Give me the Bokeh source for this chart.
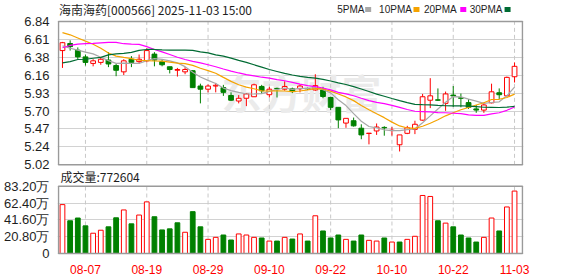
from bokeh.plotting import figure
from bokeh.models import Range1d, FixedTicker, ColumnDataSource
from bokeh.core.properties import value
from bokeh.embed import file_html
from bokeh.resources import INLINE

# ---------------- data ----------------
dates = ["08-04","08-05","08-06","08-07","08-08","08-11","08-12","08-13","08-14","08-15",
         "08-18","08-19","08-20","08-21","08-22","08-25","08-26","08-27","08-28","08-29",
         "09-01","09-02","09-03","09-04","09-05","09-08","09-09","09-10","09-11","09-12",
         "09-15","09-16","09-17","09-18","09-19","09-22","09-23","09-24","09-25","09-26",
         "09-29","09-30","10-09","10-10","10-13","10-14","10-15","10-16","10-17","10-20",
         "10-21","10-22","10-23","10-24","10-27","10-28","10-29","10-30","10-31","11-03"]
tick_dates = ["08-07","08-19","08-29","09-10","09-22","10-10","10-22","11-03"]

opens = [6.47,6.56,6.475,6.39,6.307,6.32,6.35,6.28,6.20,6.36,
         6.33,6.34,6.425,6.33,6.265,6.22,6.20,6.215,6.02,5.98,
         6.02,6.00,5.90,5.83,5.865,5.884,6.015,5.91,5.99,5.98,
         5.985,5.985,5.99,5.97,5.97,5.875,5.75,5.55,5.58,5.485,
         5.418,5.45,5.495,5.455,5.275,5.42,5.47,5.587,5.84,5.845,
         5.80,5.905,5.87,5.81,5.73,5.715,5.807,5.935,5.896,6.138]
highs = [6.58,6.60,6.51,6.42,6.36,6.38,6.45,6.30,6.36,6.40,
         6.42,6.50,6.45,6.35,6.265,6.25,6.26,6.22,6.05,6.04,
         6.06,6.035,5.94,5.905,5.93,6.05,6.035,6.01,6.00,6.08,
         6.00,6.04,6.00,6.17,6.01,5.885,5.75,5.61,5.62,5.535,
         5.425,5.545,5.51,5.50,5.40,5.515,5.58,5.92,6.12,5.99,
         5.95,6.02,5.925,5.855,5.78,5.81,6.05,5.99,6.14,6.32]
lows = [6.25,6.47,6.36,6.28,6.27,6.29,6.26,6.145,6.16,6.26,
        6.30,6.32,6.27,6.27,6.18,6.14,6.17,6.00,5.80,5.94,
        5.94,5.895,5.83,5.80,5.765,5.884,5.92,5.875,5.875,5.96,
        5.93,5.94,5.97,5.96,5.865,5.715,5.485,5.49,5.505,5.345,
        5.28,5.40,5.39,5.39,5.19,5.41,5.41,5.58,5.74,5.83,
        5.705,5.755,5.75,5.73,5.68,5.68,5.80,5.855,5.89,6.065]
closes = [6.57,6.52,6.39,6.32,6.34,6.36,6.30,6.22,6.34,6.32,
          6.36,6.47,6.35,6.29,6.23,6.23,6.23,6.00,5.98,6.02,
          6.03,5.94,5.84,5.865,5.92,6.036,5.96,5.98,5.985,6.015,
          5.95,6.02,5.985,6.025,5.887,5.75,5.59,5.61,5.515,5.40,
          5.422,5.50,5.49,5.46,5.40,5.49,5.535,5.884,5.896,5.84,
          5.92,5.895,5.865,5.75,5.715,5.78,5.947,5.91,6.13,6.27]

ma5 = [6.53,6.50,6.475,6.45,6.428,6.386,6.342,6.308,6.312,6.308,
       6.308,6.342,6.368,6.358,6.34,6.314,6.266,6.196,6.134,6.092,
       6.052,5.994,5.962,5.939,5.919,5.92,5.924,5.952,5.976,5.995,
       5.978,5.99,5.991,5.999,5.973,5.933,5.847,5.772,5.67,5.573,
       5.507,5.489,5.465,5.454,5.454,5.468,5.475,5.554,5.641,5.729,
       5.815,5.887,5.883,5.854,5.829,5.801,5.811,5.82,5.896,6.007]
ma10 = [6.697,6.67,6.63,6.59,6.55,6.50,6.44,6.40,6.383,6.368,
        6.347,6.342,6.338,6.335,6.324,6.311,6.304,6.282,6.246,6.216,
        6.183,6.13,6.079,6.037,6.006,5.986,5.959,5.957,5.958,5.957,
        5.949,5.957,5.972,5.988,5.984,5.956,5.919,5.882,5.835,5.773,
        5.72,5.668,5.619,5.562,5.514,5.488,5.482,5.51,5.548,5.592,
        5.642,5.681,5.719,5.748,5.779,5.808,5.849,5.852,5.875,5.918]
ma20 = [6.506,6.535,6.552,6.557,6.561,6.567,6.573,6.573,6.557,6.552,
        6.548,6.52,6.484,6.453,6.42,6.385,6.357,6.332,6.313,6.29,
        6.265,6.236,6.209,6.186,6.165,6.149,6.132,6.12,6.102,6.087,
        6.066,6.044,6.026,6.013,5.995,5.971,5.939,5.92,5.897,5.865,
        5.835,5.813,5.796,5.775,5.749,5.722,5.70,5.696,5.692,5.683,
        5.681,5.675,5.669,5.655,5.647,5.648,5.666,5.681,5.712,5.755]
ma30 = [6.314,6.33,6.357,6.36,6.373,6.383,6.415,6.427,6.434,6.447,
        6.472,6.484,6.484,6.478,6.475,6.475,6.475,6.472,6.453,6.44,
        6.415,6.40,6.375,6.345,6.32,6.29,6.26,6.23,6.205,6.18,
        6.16,6.143,6.13,6.12,6.105,6.084,6.061,6.04,6.013,5.982,
        5.951,5.918,5.89,5.862,5.835,5.81,5.787,5.783,5.78,5.774,
        5.77,5.769,5.77,5.766,5.759,5.751,5.75,5.748,5.753,5.761]

volumes = [605000,405000,439000,342000,251000,288000,330000,442000,539000,367000,
           476000,639000,455000,292000,305000,380000,263000,518000,330000,175000,
           200000,229000,167000,242000,229000,200000,192000,154000,154000,200000,
           179000,242000,154000,467000,279000,192000,229000,175000,154000,229000,
           163000,154000,192000,142000,142000,175000,213000,718000,706000,405000,
           376000,330000,229000,192000,142000,200000,439000,279000,576000,772604]
vol_up = [True,False,False,False,True,True,False,False,True,False,
          True,True,False,False,False,False,True,False,False,True,
          True,False,False,True,True,True,False,True,False,True,
          False,True,False,True,False,False,False,True,False,False,
          True,True,False,True,False,True,True,True,True,False,
          True,False,False,False,False,True,True,False,True,True]

price_ticks = [5.02, 5.2475, 5.475, 5.7025, 5.93, 6.1575, 6.385, 6.6125, 6.84]
price_labels = ["5.02","5.24","5.47","5.70","5.93","6.16","6.38","6.61","6.84"]
vol_ticks = [0, 208000, 416000, 624000, 832000]
vol_labels = ["0","20.80万","41.60万","62.40万","83.20万"]

title_text = "海南海药[000566] 2025-11-03 15:00"
ma_names = ["5PMA", "10PMA", "20PMA", "30PMA"]
vol_title = "成交量:" + str(volumes[-1])
watermark = "东方财富"

# ---------------- styling / layout constants (pixels) ----------------
RED = "#FF0000"
GREEN = "#008000"
MA_COLORS = ["#A8A8A8", "#F5A300", "#FF00FF", "#006B33"]
GRID = "#D2D2D2"
DASH = "#C8C8C8"
BORDER = "#9A9A9A"
TXT = "#1E1E1E"
NUM_FONT = "Liberation Sans"
CJK_FONT = "Noto Sans CJK SC"

W, H = 578, 276
FL, FR, FT, FB = 55, 523, 0, 256          # frame edges on the canvas
PANEL_L, PANEL_R = 56, 522                # panel border x
PX_FIRST, PX_LAST = 60, 514               # centre of first / last candle
PRICE_TOP_PX, PRICE_BOT_PX = 21, 165      # price panel top / bottom
VOL_TOP_PX, VOL_ZERO_PX = 186.5, 254      # volume panel top tick / zero

n = len(dates)
xs = list(range(n))

# x range so that the candles sit where the panel expects them
kx = (PX_LAST - PX_FIRST) / (n - 1)
x_start = -(PX_FIRST - FL) / kx
x_end = (n - 1) + (FR - PX_LAST) / kx
# price range on the whole frame height
ky = (PRICE_BOT_PX - PRICE_TOP_PX) / (price_ticks[-1] - price_ticks[0])
y_end = price_ticks[-1] + (PRICE_TOP_PX - FT) / ky
y_start = price_ticks[0] - (FB - PRICE_BOT_PX) / ky
# volume range on the whole frame height
kv = (VOL_ZERO_PX - VOL_TOP_PX) / (vol_ticks[-1] - vol_ticks[0])
v_end = vol_ticks[-1] + (VOL_TOP_PX - FT) / kv
v_start = vol_ticks[0] - (FB - VOL_ZERO_PX) / kv


def dx(px):
    return x_start + (px - FL) * (x_end - x_start) / (FR - FL)


def dy(py):
    return y_end - (py - FT) * (y_end - y_start) / (FB - FT)


def vol_to_main(v):
    return y_start + (v - v_start) / (v_end - v_start) * (y_end - y_start)


up = [c >= o for o, c in zip(opens, closes)]
src = ColumnDataSource(dict(
    x=xs, o=opens, h=highs, l=lows, c=closes,
    top=[max(o, c) for o, c in zip(opens, closes)],
    bot=[min(o, c) for o, c in zip(opens, closes)],
    col=[RED if u else GREEN for u in up],
    fill=["white" if u else GREEN for u in up],
    ma5=ma5, ma10=ma10, ma20=ma20, ma30=ma30,
))
vsrc = ColumnDataSource(dict(
    x=xs, v=volumes,
    col=[RED if u else GREEN for u in vol_up],
    fill=["white" if u else GREEN for u in vol_up],
))
date_tick_idx = [dates.index(d) for d in tick_dates]

p = figure(width=W, height=H, x_range=Range1d(x_start, x_end), y_range=Range1d(y_start, y_end),
           toolbar_location=None, output_backend="svg",
           min_border_left=FL, min_border_right=W - FR, min_border_top=FT, min_border_bottom=H - FB)
p.extra_y_ranges = {"vol": Range1d(v_start, v_end)}
p.background_fill_color = "white"
p.border_fill_color = "white"
p.outline_line_color = None

# one left axis carrying both the price and the volume tick labels
vol_tick_pos = [vol_to_main(v) for v in vol_ticks]
all_ticks = price_ticks + vol_tick_pos
all_labels = price_labels + vol_labels
p.yaxis.ticker = FixedTicker(ticks=all_ticks)
p.yaxis.major_label_overrides = dict(zip(all_ticks, all_labels))
for ax in p.yaxis:
    ax.axis_line_color = None
    ax.major_tick_line_color = None
    ax.minor_tick_line_color = None
    ax.major_label_standoff = 2
    ax.major_label_text_font = NUM_FONT
    ax.major_label_text_font_size = "13px"
    ax.major_label_text_color = TXT

p.xaxis.ticker = FixedTicker(ticks=date_tick_idx)
p.xaxis.major_label_overrides = {i: d for i, d in zip(date_tick_idx, tick_dates)}
for ax in p.xaxis:
    ax.axis_line_color = None
    ax.major_tick_line_color = None
    ax.minor_tick_line_color = None
    ax.major_label_standoff = 3
    ax.major_label_text_font = NUM_FONT
    ax.major_label_text_font_size = "12px"
    ax.major_label_text_color = RED

p.xgrid.visible = False
p.ygrid.ticker = FixedTicker(ticks=all_ticks)
p.ygrid.grid_line_color = GRID
p.ygrid.grid_line_width = 1.2

# watermark
p.text(x=[dx(300)], y=[dy(92)], text=[watermark], text_font=value(CJK_FONT),
       text_font_size="40px", text_font_style="bold", text_color="#EBEBEB",
       text_align="center", text_baseline="middle")

# dashed date lines inside each panel
k = len(date_tick_idx)
p.segment(x0=date_tick_idx, y0=[price_ticks[0]] * k, x1=date_tick_idx, y1=[price_ticks[-1]] * k,
          line_color=DASH, line_dash="4 3", line_width=1)
p.segment(x0=date_tick_idx, y0=[vol_ticks[0]] * k, x1=date_tick_idx, y1=[vol_ticks[-1]] * k,
          line_color=DASH, line_dash="4 3", line_width=1, y_range_name="vol")

# candles
p.segment(x0="x", y0="l", x1="x", y1="h", source=src, line_color="col", line_width=1)
p.vbar(x="x", top="top", bottom="bot", width=0.62, source=src,
       fill_color="fill", line_color="col", line_width=1)
for key, colr in zip(["ma5", "ma10", "ma20", "ma30"], MA_COLORS):
    p.line(x="x", y=key, source=src, line_color=colr, line_width=1.2)

# volume bars
p.vbar(x="x", top="v", bottom=vol_ticks[0], width=0.62, source=vsrc,
       fill_color="fill", line_color="col", line_width=1, y_range_name="vol")

# panel borders
p.quad(left=[dx(PANEL_L)], right=[dx(PANEL_R)], bottom=[price_ticks[0]], top=[price_ticks[-1]],
       fill_color=None, line_color=BORDER, line_width=1.5)
p.quad(left=[dx(PANEL_L)], right=[dx(PANEL_R)], bottom=[vol_ticks[0]], top=[vol_ticks[-1]],
       fill_color=None, line_color=BORDER, line_width=1.5, y_range_name="vol")

# header: title and MA legend
p.text(x=[dx(56.5)], y=[dy(9)], text=[title_text], text_font=value(CJK_FONT),
       text_font_size="12px", text_color=TXT, text_baseline="middle")
leg_px = [336, 378, 423, 469]
sq_px = [367, 415.5, 462.5, 507]
p.text(x=[dx(v) for v in leg_px], y=[dy(9.5)] * 4, text=ma_names, text_font=value(NUM_FONT),
       text_font_size="10px", text_color=TXT, text_baseline="middle")
p.rect(x=[dx(v) for v in sq_px], y=[dy(9)] * 4, width=6, height=5,
       width_units="screen", height_units="screen", fill_color=MA_COLORS, line_color=None)

# volume caption
p.text(x=[dx(58)], y=[dy(176.5)], text=[vol_title], text_font=value(CJK_FONT),
       text_font_size="12px", text_color=TXT, text_baseline="middle")

open("out.html", "w").write(file_html(p, INLINE))
